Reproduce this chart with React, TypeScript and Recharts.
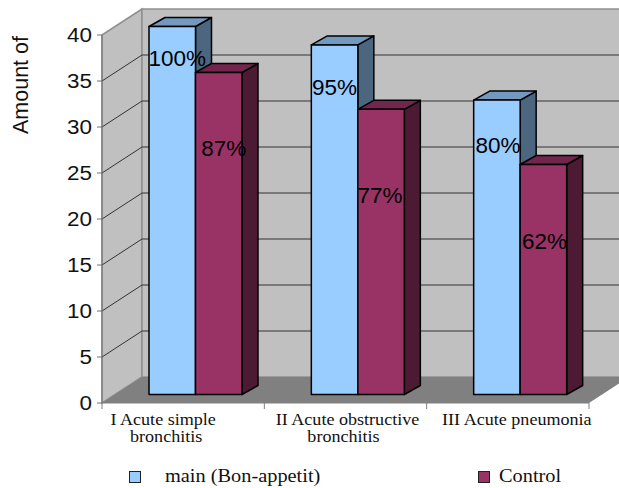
import { BarChart, Bar, XAxis, YAxis, CartesianGrid, LabelList, Legend } from 'recharts'

const categories = ['I Acute simple\nbronchitis', 'II Acute obstructive\nbronchitis', 'III Acute pneumonia']
const mainValues = [40, 38, 32]
const controlValues = [35, 31, 25]
const mainLabels = ['100%', '95%', '80%']
const controlLabels = ['87%', '77%', '62%']
const yTicks = [0, 5, 10, 15, 20, 25, 30, 35, 40]

const data = categories.map((category, i) => ({
  category,
  main: mainValues[i],
  control: controlValues[i],
  mainLabel: mainLabels[i],
  controlLabel: controlLabels[i],
}))

// plot box
const WIDTH = 619
const HEIGHT = 488
const LEFT = 102
const TOP = 35
const RIGHT = 589
const BOTTOM = 403
const BAND = (RIGHT - LEFT) / categories.length

// wall depth of the fake 3D box, and bar depth
const WALL_DX = 40
const WALL_DY = 26
const BAR_DX = 16
const BAR_DY = 9
// bars stand partway into the floor
const FLOOR_DX = 12
const FLOOR_DY = 8.5

const SANS = '"Liberation Sans", Arial, sans-serif'
const SERIF = '"Liberation Serif", "Times New Roman", serif'
// text in this chart is wider than the stock fonts
const WIDE_SANS = 1.15
const WIDE_SERIF = 1.13

// how far each % label sits below the top of its bar
const mainLabelDrop = [32, 43, 45]
const controlLabelDrop = [76, 86, 77]
const mainLabelShift = [5, 0, 1]
const controlLabelShift = [5, -1, 1]
const tickShifts = [[-20, -17], [2, -2], [9]]

const MAIN_COLORS = { front: '#99ccff', top: '#7399bf', side: '#4d6680' }
const CONTROL_COLORS = { front: '#993366', top: '#73264d', side: '#4d1a33' }

type Faces = { front: string; top: string; side: string }

function Box3D(props: any, colors: Faces) {
  const x = props.x + FLOOR_DX
  const y = props.y - FLOOR_DY
  const w = props.width
  const h = props.height
  const line = { stroke: '#000', strokeWidth: 1.5, strokeLinejoin: 'round' as const }
  return (
    <g>
      <polygon
        points={`${x + w},${y} ${x + w + BAR_DX},${y - BAR_DY} ${x + w + BAR_DX},${y + h - BAR_DY} ${x + w},${y + h}`}
        fill={colors.side}
        {...line}
      />
      <polygon
        points={`${x},${y} ${x + BAR_DX},${y - BAR_DY} ${x + w + BAR_DX},${y - BAR_DY} ${x + w},${y}`}
        fill={colors.top}
        {...line}
      />
      <rect x={x} y={y} width={w} height={h} fill={colors.front} {...line} />
    </g>
  )
}

function percentLabel(drops: number[], shifts: number[]) {
  return (props: any) => (
    <text
      x={props.x + FLOOR_DX + props.width / 2 + shifts[props.index]}
      y={props.y - FLOOR_DY + drops[props.index]}
      textAnchor="middle"
      dominantBaseline="central"
      fontFamily={SANS}
      fontSize={22.5}
      fill="#000"
    >
      {props.value}
    </text>
  )
}

// back wall line plus the diagonal running down the side wall
function GridLine(props: any) {
  const { x1, y1 } = props
  if (Math.abs(y1 - TOP) < 1 || Math.abs(y1 - BOTTOM) < 1) return <g key={props.key} />
  return (
    <path
      key={props.key}
      d={`M${x1},${y1} L${x1 + WALL_DX},${y1 - WALL_DY} L${WIDTH},${y1 - WALL_DY}`}
      fill="none"
      stroke="#333"
      strokeWidth={1}
    />
  )
}

function AmountTick(props: any) {
  const { x, y, payload } = props
  return (
    <text
      transform={`translate(${x},${y}) scale(${WIDE_SANS},1)`}
      textAnchor="end"
      dominantBaseline="central"
      fontFamily={SANS}
      fontSize={19.5}
      fill="#111"
    >
      {payload.value}
    </text>
  )
}

function CategoryTick(props: any) {
  const { x, y, index, payload } = props
  const lines: string[] = payload.value.split('\n')
  const left = x - BAND / 2
  return (
    <g>
      <line x1={left} y1={BOTTOM} x2={left} y2={BOTTOM + 6} stroke="#808080" />
      {index === categories.length - 1 && (
        <line x1={left + BAND} y1={BOTTOM} x2={left + BAND} y2={BOTTOM + 6} stroke="#808080" />
      )}
      {lines.map((line, i) => (
        <text
          key={line}
          transform={`translate(${x + tickShifts[index][i]},${y + 14 + i * 17}) scale(${WIDE_SERIF},1)`}
          textAnchor="middle"
          fontFamily={SERIF}
          fontSize={16}
          fill="#111"
        >
          {line}
        </text>
      ))}
    </g>
  )
}

function LegendRow({ payload }: any) {
  const slots = [
    { box: 129, text: 165 },
    { box: 478, text: 499 },
  ]
  return (
    <div style={{ position: 'relative', height: 24, fontFamily: SERIF, fontSize: 18, color: '#111' }}>
      {(payload ?? []).map((entry: any, i: number) => (
        <div key={entry.value}>
          <span
            style={{
              position: 'absolute',
              left: slots[i].box,
              top: 6,
              width: 10,
              height: 10,
              background: entry.color,
              border: '1.5px solid #222',
            }}
          />
          <span
            style={{
              position: 'absolute',
              left: slots[i].text,
              top: 1,
              whiteSpace: 'nowrap',
              transform: `scaleX(${WIDE_SERIF})`,
              transformOrigin: 'left center',
            }}
          >
            {entry.value}
          </span>
        </div>
      ))}
    </div>
  )
}

export default function App() {
  return (
    <div style={{ position: 'absolute', left: 0, top: 0, width: WIDTH, height: HEIGHT, background: '#fff' }}>
      <BarChart
        width={WIDTH}
        height={HEIGHT}
        data={data}
        barGap={0}
        barSize={46.5}
        margin={{ top: TOP, right: WIDTH - RIGHT, bottom: 11, left: 0 }}
      >
        {/* side wall, back wall and floor */}
        <polygon
          points={`${LEFT},${TOP} ${LEFT + WALL_DX},${TOP - WALL_DY} ${LEFT + WALL_DX},${BOTTOM - WALL_DY} ${LEFT},${BOTTOM}`}
          fill="#c0c0c0"
          stroke="#909090"
          strokeWidth={1.5}
        />
        <rect
          x={LEFT + WALL_DX}
          y={TOP - WALL_DY}
          width={WIDTH}
          height={BOTTOM - TOP}
          fill="#c0c0c0"
          stroke="#909090"
          strokeWidth={1.5}
        />
        <polygon
          points={`${LEFT},${BOTTOM} ${LEFT + WALL_DX},${BOTTOM - WALL_DY} ${RIGHT + WALL_DX},${BOTTOM - WALL_DY} ${RIGHT},${BOTTOM}`}
          fill="#808080"
        />
        <CartesianGrid vertical={false} horizontal={GridLine} zIndex={1} />
        <XAxis
          dataKey="category"
          interval={0}
          height={50}
          axisLine={{ stroke: '#808080' }}
          tickLine={false}
          tick={CategoryTick}
        />
        <YAxis
          type="number"
          domain={[0, 40]}
          ticks={yTicks}
          width={LEFT}
          interval={0}
          tickSize={5}
          tickMargin={5}
          axisLine={{ stroke: '#707070' }}
          tickLine={{ stroke: '#707070' }}
          tick={AmountTick}
          label={{
            value: 'Amount of',
            angle: -90,
            position: 'insideLeft',
            offset: 20,
            dy: -134,
            textAnchor: 'middle',
            style: { fontFamily: SANS, fontSize: 21.5, fill: '#111', textAnchor: 'middle' },
          }}
        />
        <Bar
          dataKey="main"
          name="main (Bon-appetit)"
          fill={MAIN_COLORS.front}
          isAnimationActive={false}
          shape={(p: any) => Box3D(p, MAIN_COLORS)}
        >
          <LabelList dataKey="mainLabel" content={percentLabel(mainLabelDrop, mainLabelShift)} />
        </Bar>
        <Bar
          dataKey="control"
          name="Control"
          fill={CONTROL_COLORS.front}
          isAnimationActive={false}
          shape={(p: any) => Box3D(p, CONTROL_COLORS)}
        >
          <LabelList dataKey="controlLabel" content={percentLabel(controlLabelDrop, controlLabelShift)} />
        </Bar>
        <Legend
          verticalAlign="bottom"
          content={LegendRow}
          itemSorter={null}
          wrapperStyle={{ left: 0, width: WIDTH, height: 24, top: 465, bottom: 'auto' }}
        />
      </BarChart>
    </div>
  )
}
